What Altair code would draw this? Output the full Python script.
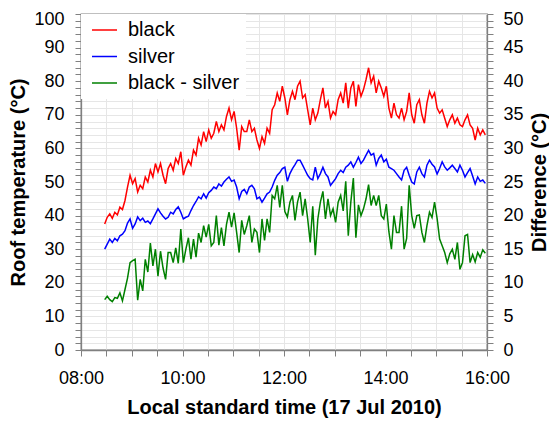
import altair as alt
import pandas as pd

# sampling: first reading at 08:28, one reading every 3 minutes
START_MIN = 8 * 60 + 28
STEP_MIN = 3

# roof temperature of the black roof (°C)
black = [
    37.5, 39.5, 40.5, 39.2, 41.0, 40.2, 42.5, 41.8, 44.5, 48.5,
    52.0, 49.5, 51.0, 47.0, 49.0, 48.0, 51.5, 50.0, 53.5, 51.5,
    55.5, 53.0, 55.5, 52.0, 49.5, 54.0, 55.5, 53.5, 57.0, 55.5,
    59.0, 52.0, 54.5, 56.5, 55.0, 59.5, 58.0, 63.0, 61.0, 65.0,
    62.0, 65.5, 63.0, 64.5, 68.0, 65.0, 67.0, 65.5, 69.5, 72.0,
    68.5, 71.0, 66.0, 59.5, 66.5, 65.0, 65.0, 68.5, 65.0, 66.0,
    62.5, 60.0, 63.5, 61.5, 66.0, 64.5, 71.5, 73.0, 76.5, 74.0,
    78.5, 75.0, 70.0, 74.5, 77.0, 74.5, 78.5, 80.0, 75.0, 76.0,
    71.5, 67.0, 72.0, 68.5, 70.5, 74.5, 78.0, 72.0, 74.0, 69.0,
    71.0, 70.0, 74.5, 76.5, 73.5, 79.5, 72.0, 78.0, 80.0, 72.5,
    79.0, 75.5, 77.5, 80.5, 84.0, 79.5, 81.5, 76.5, 80.0, 78.0,
    75.5, 78.5, 72.0, 69.0, 73.5, 70.0, 69.0, 72.0, 68.5, 71.0,
    76.5, 70.0, 67.5, 73.0, 74.5, 70.0, 67.5, 73.5, 77.0, 75.0,
    76.5, 72.0, 70.5, 71.5, 69.0, 66.5, 68.5, 70.0, 67.5, 69.0,
    67.0, 66.5, 68.5, 70.0, 67.0, 66.0, 62.5, 66.0, 64.0, 65.5,
    64.0,
]

# roof temperature of the silver roof (°C)
silver = [
    30.0, 31.5, 33.0, 32.0, 33.2, 32.5, 34.0, 34.5, 35.5, 37.8,
    39.0, 36.2, 37.5, 39.6, 38.5, 39.2, 38.0, 38.4, 37.6, 39.0,
    40.5, 42.0, 40.8, 39.8, 39.0, 39.5, 41.0, 40.5, 41.8, 42.6,
    41.0, 39.0, 39.5, 39.8, 41.5, 43.0, 44.2, 45.6, 45.0, 46.5,
    45.2, 46.8, 47.5, 48.5, 48.0, 49.4, 48.8, 50.0, 50.8, 51.5,
    50.2, 50.6, 48.5, 45.0, 47.2, 47.8, 46.5, 48.5, 49.0, 48.0,
    45.0, 45.5, 44.0, 45.2, 46.5, 47.0, 48.5, 50.5, 52.0, 52.8,
    54.0, 54.4, 50.2, 52.5, 54.0, 55.2, 56.5, 56.5, 55.0, 53.5,
    52.0, 51.0, 50.6, 54.4, 51.0, 52.5, 54.4, 52.5, 51.5, 49.0,
    50.0, 51.0, 52.5, 53.5, 52.8, 54.4, 55.0, 56.0, 54.4, 55.8,
    57.4, 55.5, 56.5, 58.0, 59.4, 58.0, 58.5, 55.0, 57.0, 58.0,
    56.0, 56.8, 54.4, 54.0, 53.5, 52.5, 51.5, 50.6, 53.5, 54.4,
    52.0, 50.0, 49.4, 53.0, 54.4, 52.5, 51.5, 55.0, 56.5, 55.3,
    54.5, 52.4, 54.0, 56.0, 54.5, 53.5, 54.2, 55.0, 54.0, 53.0,
    55.0, 53.5, 51.5, 52.8, 54.0, 51.8, 49.4, 51.5, 50.2, 50.6,
    49.6,
]

series_names = ["black", "silver", "black - silver"]
series_colors = ["#ff0000", "#0000ff", "#008000"]

x_tick_values = [8 + 0.5 * k for k in range(17)]
left_tick_values = list(range(0, 101, 2))
right_tick_values = list(range(0, 51, 1))

n = len(black)
hours = [(START_MIN + STEP_MIN * i) / 60 for i in range(n)]
difference = [round(b - s, 2) for b, s in zip(black, silver)]

left_df = pd.DataFrame({
    "t": hours + hours,
    "v": black + silver,
    "s": ["black"] * n + ["silver"] * n,
})
right_df = pd.DataFrame({"t": hours, "v": difference, "s": ["black - silver"] * n})

FONT = "Liberation Sans"
GRAY = "#808080"
GRID = "#e6e6e6"

legend = alt.Legend(
    orient="top-left", offset=0, padding=6, fillColor="white",
    symbolType="M-0.8,0H3.2", symbolSize=156.25, symbolStrokeWidth=1.5,
    labelFontSize=20, labelFont=FONT, labelColor="black",
    rowPadding=6.5, labelOffset=21, labelLimit=300,
)
color = alt.Color(
    "s:N", title=None,
    scale=alt.Scale(domain=series_names, range=series_colors),
    legend=legend,
)

x = alt.X(
    "t:Q",
    scale=alt.Scale(domain=[8, 16], nice=False, zero=False),
    axis=alt.Axis(
        values=x_tick_values,
        labelExpr="datum.value % 2 == 0 ? (datum.value < 10 ? '0' : '') + datum.value + ':00' : ''",
        title="Local standard time (17 Jul 2010)",
        labelFlush=False, labelOverlap=False,
        grid=True, gridColor=GRID, gridWidth=1,
        tickSize=6, tickColor=GRAY, domainColor=GRAY, domainWidth=1.3,
        labelPadding=13, labelFontSize=18, labelFont=FONT, labelColor="black",
        titlePadding=10, titleFontSize=20, titleFont=FONT, titleFontWeight="bold", titleColor="black",
    ),
)

top_label_shift = {"condition": {"test": "datum.value == 100", "value": 5}, "value": 0}
top_label_shift_r = {"condition": {"test": "datum.value == 50", "value": 5}, "value": 0}

left = alt.Chart(left_df).mark_line(strokeWidth=1.5).encode(
    x=x,
    y=alt.Y(
        "v:Q",
        scale=alt.Scale(domain=[0, 100], nice=False),
        axis=alt.Axis(
            orient="left", values=left_tick_values,
            labelExpr="datum.value % 10 == 0 ? datum.label : ''",
            labelOverlap=False, labelOffset=top_label_shift,
            title="Roof temperature (°C)",
            grid=True, gridColor=GRID, gridWidth=1,
            tickSize=6, tickColor=GRAY, domainColor=GRAY, domainWidth=1.3,
            labelPadding=11, labelFontSize=18, labelFont=FONT, labelColor="black",
            titlePadding=5, titleFontSize=20, titleFont=FONT, titleFontWeight="bold", titleColor="black",
        ),
    ),
    color=color,
)

right = alt.Chart(right_df).mark_line(strokeWidth=1.5).encode(
    x=x,
    y=alt.Y(
        "v:Q",
        scale=alt.Scale(domain=[0, 50], nice=False),
        axis=alt.Axis(
            orient="right", values=right_tick_values,
            labelExpr="datum.value % 5 == 0 ? datum.label : ''",
            labelOverlap=False, labelOffset=top_label_shift_r,
            title="Difference (°C)", titleAngle=270, titleBaseline="top",
            grid=False,
            tickSize=6, tickColor=GRAY, domainColor=GRAY, domainWidth=1.3,
            labelPadding=10, labelFontSize=18, labelFont=FONT, labelColor="black",
            titlePadding=6, titleFontSize=20, titleFont=FONT, titleFontWeight="bold", titleColor="black",
        ),
    ),
    color=color,
)

chart = (
    alt.layer(left, right)
    .resolve_scale(y="independent")
    .properties(
        width=406, height=336,
        autosize=alt.AutoSizeParams(type="none"),
        padding={"left": 73, "top": 6, "right": 62, "bottom": 68},
        background="white",
    )
    .configure(font=FONT)
    .configure_view(stroke=GRAY, strokeWidth=1.3)
)

chart.save("out.html", embed_options={"renderer": "svg", "actions": False})
